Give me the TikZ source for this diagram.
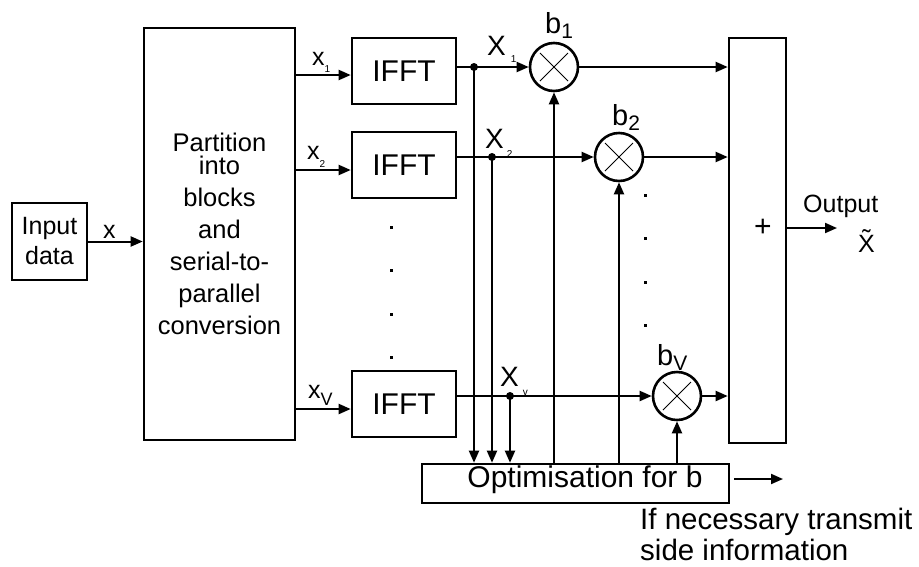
\documentclass[tikz,border=0pt]{standalone}
\usepackage{fontspec}
\setmainfont{Liberation Sans}
\usetikzlibrary{arrows.meta,calc}
\newcommand{\fs}[1]{\fontsize{#1}{#1}\selectfont}
\newcommand{\mysub}[3]{\raisebox{-#2pt}{\fs{#1}#3}}
\begin{document}
\begin{tikzpicture}[x=1pt,y=-1pt,
  box/.style={draw, line width=2.6pt, inner sep=0pt},
  conn/.style={line width=2pt, -{Triangle[length=12pt,width=10pt]}},
  mult/.style={circle, draw, line width=2.6pt, minimum size=48pt, inner sep=0pt,
    path picture={\draw[line width=1pt]
      ([shift={(-14pt,-14pt)}]path picture bounding box.center) -- ([shift={(14pt,14pt)}]path picture bounding box.center)
      ([shift={(-14pt,14pt)}]path picture bounding box.center) -- ([shift={(14pt,-14pt)}]path picture bounding box.center);}},
  lbl/.style={anchor=base west, inner sep=0pt},
  jdot/.style={circle, fill, inner sep=0pt, minimum size=8pt},
  edot/.style={rectangle, fill, inner sep=0pt, minimum size=3pt}
]
\useasboundingbox[fill=white] (0,0) rectangle (919,566);

% blocks
\node[box, minimum width=75pt, minimum height=77pt, align=center, font=\fontsize{25}{30}\selectfont] (in) at (49.5,241.5) {Input\\data};
\node[box, minimum width=151pt, minimum height=412pt, align=center, font=\fontsize{25.5}{32}\selectfont] (part) at (219.5,234)
  {Partition\\[-9pt]into\\blocks\\and\\serial-to-\\parallel\\conversion};
\node[box, minimum width=104pt, minimum height=66pt, font=\fs{30}] (f1) at (404,71) {IFFT};
\node[box, minimum width=104pt, minimum height=66pt, font=\fs{30}] (f2) at (404,165) {IFFT};
\node[box, minimum width=104pt, minimum height=66pt, font=\fs{30}] (fv) at (404,404) {IFFT};
\node[mult] (m1) at (554,67) {};
\node[mult] (m2) at (619,157) {};
\node[mult] (mv) at (677,396) {};
\node[box, minimum width=57pt, minimum height=405pt] (sum) at (757.5,240.5) {};
\node[font=\fs{30}, inner sep=0pt] (plus) at (763,228) {+};
\node[box, minimum width=307pt, minimum height=39pt, font=\fs{30}, text height=20pt, text depth=13pt] (opt) at (575.5,483.5)
  {\hspace*{19pt}Optimisation for b};

% junction dots
\node[jdot] (j1) at (474,67) {};
\node[jdot] (j2) at (492,157) {};
\node[jdot] (jv) at (510,396) {};

% ellipsis dots
\foreach \yy in {227,270,314,357} \node[edot] (ld\yy) at (391,\yy) {};
\foreach \yy in {195,238,282,325} \node[edot] (rd\yy) at (645,\yy) {};

% connectors
\draw[conn] (in.east) -- (in.east -| part.west);
\coordinate (a1) at ([yshift=-4pt]f1.west);
\coordinate (a2) at ([yshift=-5pt]f2.west);
\coordinate (av) at ([yshift=-5pt]fv.west);
\draw[conn] (part.east |- a1) -- (a1);
\draw[conn] (part.east |- a2) -- (a2);
\draw[conn] (part.east |- av) -- (av);

\draw[conn] (f1.east |- m1) -- (m1);
\draw[conn] (f2.east |- m2) -- (m2);
\draw[conn] (fv.east |- mv) -- (mv);

\draw[conn] (j1.center) -- (j1.center |- opt.north);
\draw[conn] (j2.center) -- (j2.center |- opt.north);
\draw[conn] (jv.center) -- (jv.center |- opt.north);

\draw[conn] (m1.south |- opt.north) -- (m1.south);
\draw[conn] (m2.south |- opt.north) -- (m2.south);
\draw[conn] (mv.south |- opt.north) -- (mv.south);

\draw[conn] (m1) -- (m1 -| sum.west);
\draw[conn] (m2) -- (m2 -| sum.west);
\draw[conn] (mv) -- (mv -| sum.west);

\coordinate (oend) at (837,228);
\draw[conn] (sum.east |- oend) -- (oend);
\coordinate (send) at (783,479);
\draw[conn] ([xshift=4pt]opt.east |- send) -- (send);

% labels
\node[lbl, font=\fs{25}] (lx) at (103,238) {x};
\node[lbl, font=\fs{25}] (lx1) at (312,65) {x\mysub{10}{7}{1}};
\node[lbl, font=\fs{25}] (lx2) at (307,159) {x\mysub{10}{8}{2}};
\node[lbl, font=\fs{25}] (lxv) at (308,398) {x\mysub{18}{7}{V}};
\node[lbl, font=\fs{28}] (lX1) at (487,55) {X\hspace{5pt}\mysub{10}{7}{1}};
\node[lbl, font=\fs{28}] (lX2) at (485,148) {X\hspace{3pt}\mysub{10}{9}{2}};
\node[lbl, font=\fs{28}] (lXv) at (500,386) {X\hspace{4pt}\mysub{10}{9}{v}};
\node[lbl, font=\fs{29}] (lb1) at (545,33) {b\mysub{21}{5}{1}};
\node[lbl, font=\fs{29}] (lb2) at (612,125) {b\mysub{21}{5}{2}};
\node[lbl, font=\fs{29}] (lbv) at (657,365) {b\mysub{21}{5}{V}};
\node[lbl, font=\fs{25}] (lout) at (803,212) {Output};
\node[lbl, font=\fs{25}] (lxt) at (858,252) {\~{X}};
\node[anchor=west, align=left, inner sep=0pt, font=\fontsize{29.5}{31}\selectfont] (side) at (640,534.5)
  {If necessary transmit\\side information};
\end{tikzpicture}
\end{document}
